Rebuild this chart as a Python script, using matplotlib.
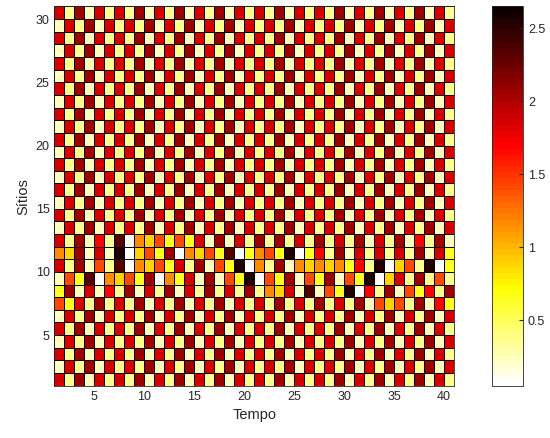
import numpy as np
import matplotlib
matplotlib.use("Agg")
import matplotlib.pyplot as plt
from matplotlib.colors import ListedColormap

# colour codes used in the grid rows -> value
levels = {'w': 0.08, 'p': 0.24, 'y': 0.35, 'Y': 0.65, 'g': 0.9, 'o': 1.15,
          'O': 1.42, 'f': 1.68, 'r': 1.85, 'd': 2.05, 'k': 2.35, 'K': 2.55}

# one string per site (row), from site 30 (top) down to site 1, one char per time step
rows_top_down = [
    "rydpryrydprydprydpryrydpryrydprydprydpry",  # 30
    "prydpryrydprydprydpryrydpryrydprydprydpr",  # 29
    "rydpryrydprydprydpryrydpryrydprydprydpry",  # 28
    "prydpryrydprydprydpryrydpryrydprydprydpr",  # 27
    "rydpryrydprydprydpryrydpryrydprydprydpry",  # 26
    "prydpryrydprydprydpryrydpryrydprydprydpr",  # 25
    "rydpryrydprydprydpryrydpryrydprydprydpry",  # 24
    "prydpryrydprydprydpryrydpryrydprydprydpr",  # 23
    "rydpryrydprydprydpryrydpryrydprydprydpry",  # 22
    "prydpryrydprydprydpryrydpryrydprydprydpr",  # 21
    "rydpryrydprydprydpryrydpryrydprydprydpry",  # 20
    "prydpryrydprydprydpryrydpryrydprydprydpr",  # 19
    "rydpryrydprydprydpryrydpryrydprydprydpry",  # 18
    "prydpryrydprydprydpryrydpryrydprydprydpr",  # 17
    "rydpryrydprydprydpryrydpryrydprydprydpry",  # 16
    "prydpryrydprydprydpryrydpryrydprydprydpr",  # 15
    "rydpryrydprydprydpryrydpryrydprydprydpry",  # 14
    "prydpryrydprydprydpryrydpryrydprydprydpr",  # 13
    "rydpfykwogOYOYrpdprydydyrydyrydprydpfydp",  # 12
    "ogdprpKwgOYdwogOYkwYoOYKwYfydpryryrydprY",  # 11
    "rydpOykwogOYrydpOYKwoydpogogoYfyKwgOyKwY",  # 10
    "pOYkwogOYdwoYrpdpOYKwOYdpOYdpOYKwgrydyOy",  # 9
    "YdprpfydprydprydyrydyogrpkpOYKwfydpOYfyd",  # 8
    "OYrydyrydprydprydpryrydyrydyrydpOgOydpfY",  # 7
    "prydpryrydprydprydpryrydpryrydprydprydpr",  # 6
    "rydpryrydprydprydpryrydpryrydprydprydpry",  # 5
    "prydpryrydprydprydpryrydpryrydprydprydpr",  # 4
    "rydpryrydprydprydpryrydpryrydprydprydpry",  # 3
    "prydpryrydprydprydpryrydpryrydprydprydpr",  # 2
    "rydpryrydprydprydpryrydpryrydprydprydpry",  # 1
]

x_ticks = [5, 10, 15, 20, 25, 30, 35, 40]
y_ticks = [5, 10, 15, 20, 25, 30]
cbar_ticks = [0.5, 1, 1.5, 2, 2.5]

vals = np.array([[levels[c] for c in row] for row in rows_top_down[::-1]])
n_sites, n_times = vals.shape
x_edges = np.arange(1, n_times + 2)
y_edges = np.arange(1, n_sites + 2)

plt.rcParams['font.family'] = ['Liberation Sans', 'DejaVu Sans']
cmap = ListedColormap(plt.get_cmap('hot_r')(np.linspace(0, 1, 64)))

fig = plt.figure(figsize=(5.5, 4.38), dpi=100)
ax = fig.add_axes([0.099, 0.1194, 0.7264, 0.8658])
mesh = ax.pcolormesh(x_edges, y_edges, vals, cmap=cmap, vmin=0.05, vmax=2.65,
                     edgecolors='k', linewidth=0.6)
ax.set_xlim(1, 41)
ax.set_ylim(1, 31)
ax.set_xticks(x_ticks)
ax.set_yticks(y_ticks)
ax.tick_params(direction='in', length=3, labelsize=9, colors='#262626')
ax.set_xlabel('Tempo', fontsize=10.5, color='#262626')
ax.set_ylabel('Sítios', fontsize=10.5, color='#262626')
for s in ax.spines.values():
    s.set_color('#262626')
    s.set_linewidth(0.6)

cax = fig.add_axes([0.8945, 0.1194, 0.0564, 0.8658])
cb = fig.colorbar(mesh, cax=cax, ticks=cbar_ticks)
cb.ax.tick_params(direction='in', length=3, labelsize=9, colors='#262626')
cb.ax.set_yticklabels(['0.5', '1', '1.5', '2', '2.5'])
cb.outline.set_edgecolor('#262626')
cb.outline.set_linewidth(0.6)

fig.savefig('out.png', dpi=100)
